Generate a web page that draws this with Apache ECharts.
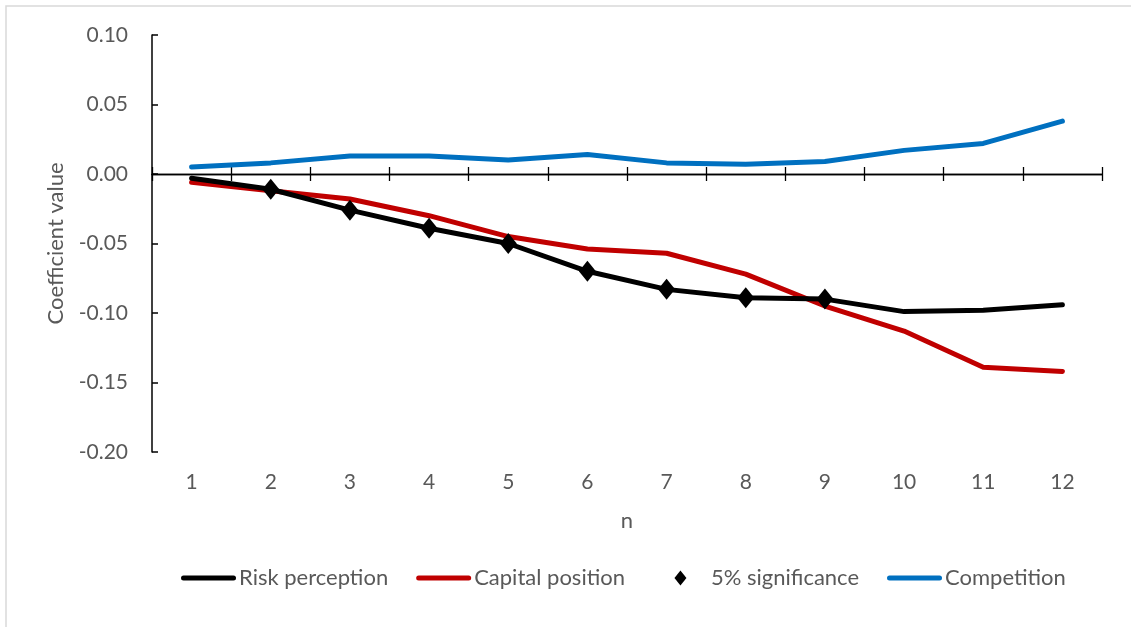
<!DOCTYPE html>
<html>
<head>
  <meta charset="UTF-8">
  <title>Coefficient value by n</title>
  <script src="https://cdn.jsdelivr.net/npm/echarts@6/dist/echarts.min.js"></script>
  <style>
    * { padding: 0; margin: 0; }
    body { background: #fff; }
    #box { width: 1131px; height: 627px; }
  </style>
</head>
<body>
  <div id="box"></div>
  <script>
    // n = 1..12
    var nLabels = ['1', '2', '3', '4', '5', '6', '7', '8', '9', '10', '11', '12']
    var riskPerception = [-0.003, -0.011, -0.026, -0.039, -0.050, -0.070, -0.083, -0.089, -0.090, -0.099, -0.098, -0.094]
    var capitalPosition = [-0.006, -0.012, -0.018, -0.030, -0.045, -0.054, -0.057, -0.072, -0.095, -0.113, -0.139, -0.142]
    var competition = [0.005, 0.008, 0.013, 0.013, 0.010, 0.014, 0.008, 0.007, 0.009, 0.017, 0.022, 0.038]
    // points of the risk perception line that are significant at 5%
    var significantN = ['2', '3', '4', '5', '6', '7', '8', '9']

    var sigData = []
    for (let i = 0; i < significantN.length; i++) {
      let idx = nLabels.indexOf(significantN[i])
      sigData.push([significantN[i], riskPerception[idx]])
    }

    var txt = '#595959'
    var font = 'Lato'
    // legend icons: a thick rounded line, and a small diamond centred in the same 55x15 box
    var lineIcon = 'path://M0,0 L0,0 M0,15 L0,15 M2.5,5 L52.5,5 A2.5,2.5 0 0 1 52.5,10 L2.5,10 A2.5,2.5 0 0 1 2.5,5 Z'
    var diamondIcon = 'path://M0,0 L0,0 M55,15 L55,15 M27.5,0 L33.5,7.5 L27.5,15 L21.5,7.5 Z'

    var mCharts = echarts.init(document.getElementById('box'))
    var option = {
      animation: false,
      backgroundColor: '#fff',
      graphic: [{
        type: 'rect',
        shape: { x: 6, y: 6, width: 1200, height: 700 },
        style: { fill: 'none', stroke: '#d9d9d9', lineWidth: 1.5 },
        silent: true
      }],
      grid: { left: 152, right: 29, top: 35, bottom: 175 },
      legend: {
        left: 176,
        top: 562,
        itemWidth: 55,
        itemHeight: 15,
        itemGap: 28,
        textStyle: { color: txt, fontSize: 22, fontFamily: font, padding: [0, 0, 0, -2] },
        data: [
          { name: 'Risk perception', icon: lineIcon },
          { name: 'Capital position', icon: lineIcon },
          { name: '5% significance', icon: diamondIcon },
          { name: 'Competition', icon: lineIcon }
        ]
      },
      xAxis: [{
        // zero line, ticks below
        type: 'category',
        data: nLabels,
        position: 'bottom',
        axisLine: { onZero: true, onZeroAxisIndex: 0, lineStyle: { color: '#000', width: 1.3 } },
        axisTick: { show: true, inside: false, length: 7, lineStyle: { color: '#000', width: 1.3 } },
        axisLabel: { show: false }
      }, {
        // zero line, ticks above
        type: 'category',
        data: nLabels,
        position: 'top',
        axisLine: { onZero: true, onZeroAxisIndex: 0, lineStyle: { color: '#000', width: 1.3 } },
        axisTick: { show: true, inside: false, length: 7, lineStyle: { color: '#000', width: 1.3 } },
        axisLabel: { show: false }
      }, {
        // labels at the bottom of the plot
        type: 'category',
        data: nLabels,
        position: 'bottom',
        axisLine: { show: false, onZero: false },
        axisTick: { show: false },
        axisLabel: { color: txt, fontSize: 21, fontFamily: font, margin: 20 },
        name: 'n',
        nameLocation: 'middle',
        nameGap: 58,
        nameTextStyle: { color: txt, fontSize: 22, fontFamily: font }
      }],
      yAxis: {
        type: 'value',
        min: -0.2,
        max: 0.1,
        interval: 0.05,
        axisLine: { show: true, lineStyle: { color: '#000', width: 1.5 } },
        axisTick: { show: true, inside: true, length: 6, lineStyle: { color: '#000', width: 1.5 } },
        splitLine: { show: false },
        axisLabel: {
          color: txt, fontSize: 21, fontFamily: font, margin: 24,
          formatter: function (v) {
            if (Math.abs(v) < 1e-9) return '0.00'
            return v.toFixed(2)
          }
        },
        name: 'Coefficient value',
        nameLocation: 'middle',
        nameGap: 85,
        nameTextStyle: { color: txt, fontSize: 22, fontFamily: font }
      },
      series: [{
        name: 'Risk perception',
        type: 'line',
        data: riskPerception,
        symbol: 'none',
        color: '#000000',
        lineStyle: { width: 5, cap: 'round', join: 'round' },
        z: 3
      }, {
        name: 'Capital position',
        type: 'line',
        data: capitalPosition,
        symbol: 'none',
        color: '#C00000',
        lineStyle: { width: 5, cap: 'round', join: 'round' },
        z: 2
      }, {
        name: '5% significance',
        type: 'scatter',
        data: sigData,
        symbol: 'diamond',
        symbolSize: [17, 21],
        itemStyle: { color: '#000000', opacity: 1 },
        z: 4
      }, {
        name: 'Competition',
        type: 'line',
        data: competition,
        symbol: 'none',
        color: '#0070C0',
        lineStyle: { width: 5, cap: 'round', join: 'round' },
        z: 2
      }]
    }
    mCharts.setOption(option)
  </script>
</body>
</html>
